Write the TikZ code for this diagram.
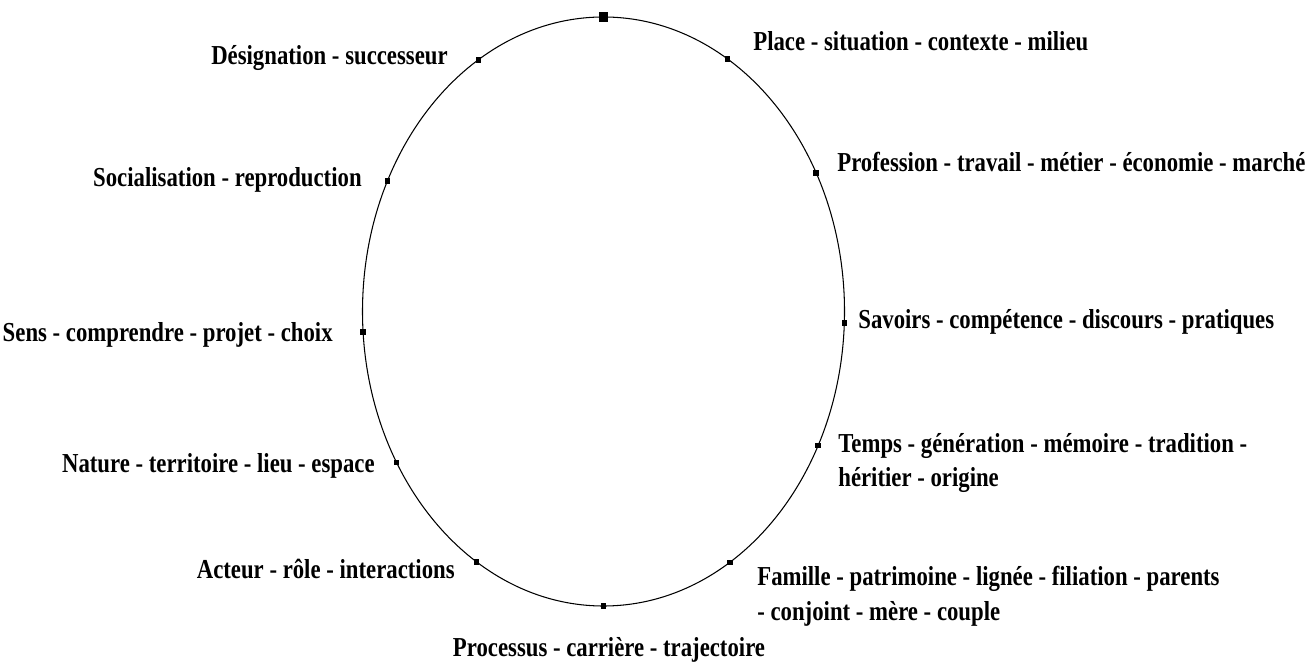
\documentclass[tikz,border=0pt]{standalone}
\usepackage{fontspec}
\setmainfont{Liberation Serif}[FakeStretch=0.83]
\begin{document}
\begin{tikzpicture}[x=0.2mm, y=-0.2mm,
    keyPoint/.style={fill=black, inner sep=0pt, minimum size=1.1mm},
    topPoint/.style={fill=black, inner sep=0pt, minimum size=1.9mm},
    term/.style={font=\fontsize{15.6}{19.8}\selectfont\bfseries, inner sep=0pt, align=left}]
        \useasboundingbox (0,0) rectangle (1311,664);

        \coordinate (C) at (603.5,311.5);
        \draw [line width=0.6pt] (C) ellipse [x radius=241, y radius=294.5];

        \coordinate (Top) at ([shift={(-90:241 and 294.5)}]C);
        \coordinate (Desig) at ([shift={(-121.3:241 and 294.5)}]C);
        \coordinate (Place) at ([shift={(-59.1:241 and 294.5)}]C);
        \coordinate (Prof) at ([shift={(-28.1:241 and 294.5)}]C);
        \coordinate (Socia) at ([shift={(206.3:241 and 294.5)}]C);
        \coordinate (Savoir) at ([shift={(2.2:241 and 294.5)}]C);
        \coordinate (Sens) at ([shift={(176:241 and 294.5)}]C);
        \coordinate (Temps) at ([shift={(27.1:241 and 294.5)}]C);
        \coordinate (Nature) at ([shift={(149.1:241 and 294.5)}]C);
        \coordinate (Famille) at ([shift={(58.4:241 and 294.5)}]C);
        \coordinate (Acteur) at ([shift={(121.8:241 and 294.5)}]C);
        \coordinate (Process) at ([shift={(90:241 and 294.5)}]C);

        \node [topPoint] (TopMP) at (Top) {};
        \node [keyPoint] (DesigMP) at (Desig) {};
        \node [keyPoint] (PlaceMP) at (Place) {};
        \node [keyPoint] (ProfMP) at (Prof) {};
        \node [keyPoint] (SociaMP) at (Socia) {};
        \node [keyPoint] (SavoirMP) at (Savoir) {};
        \node [keyPoint] (SensMP) at (Sens) {};
        \node [keyPoint] (TempsMP) at (Temps) {};
        \node [keyPoint] (NatureMP) at (Nature) {};
        \node [keyPoint] (FamilleMP) at (Famille) {};
        \node [keyPoint] (ActeurMP) at (Acteur) {};
        \node [keyPoint] (ProcessMP) at (Process) {};

        \node [term, anchor=base east] (DesigLbl) at (448,65) {Désignation - successeur};
        \node [term, anchor=base west] (PlaceLbl) at (753,51) {Place - situation - contexte - milieu};
        \node [term, anchor=base east] (SociaLbl) at (362,187) {Socialisation - reproduction};
        \node [term, anchor=base west] (ProfLbl) at (837,172) {Profession - travail - métier - économie - marché};
        \node [term, anchor=base east] (SensLbl) at (333,342) {Sens - comprendre - projet - choix};
        \node [term, anchor=base west] (SavoirLbl) at (858,329) {Savoirs - compétence - discours - pratiques};
        \node [term, anchor=base east] (NatureLbl) at (375,473) {Nature - territoire - lieu - espace};
        \node [term, anchor=base west] (TempsLbl) at (838,487) {Temps - génération - mémoire - tradition -\\héritier - origine};
        \node [term, anchor=base east] (ActeurLbl) at (455,578) {Acteur - rôle - interactions};
        \node [term, anchor=base west] (FamilleLbl) at (757,620) {Famille - patrimoine - lignée - filiation - parents\\- conjoint - mère - couple};
        \node [term, anchor=base] (ProcessLbl) at (609,656) {Processus - carrière - trajectoire};
      \end{tikzpicture}
\end{document}
